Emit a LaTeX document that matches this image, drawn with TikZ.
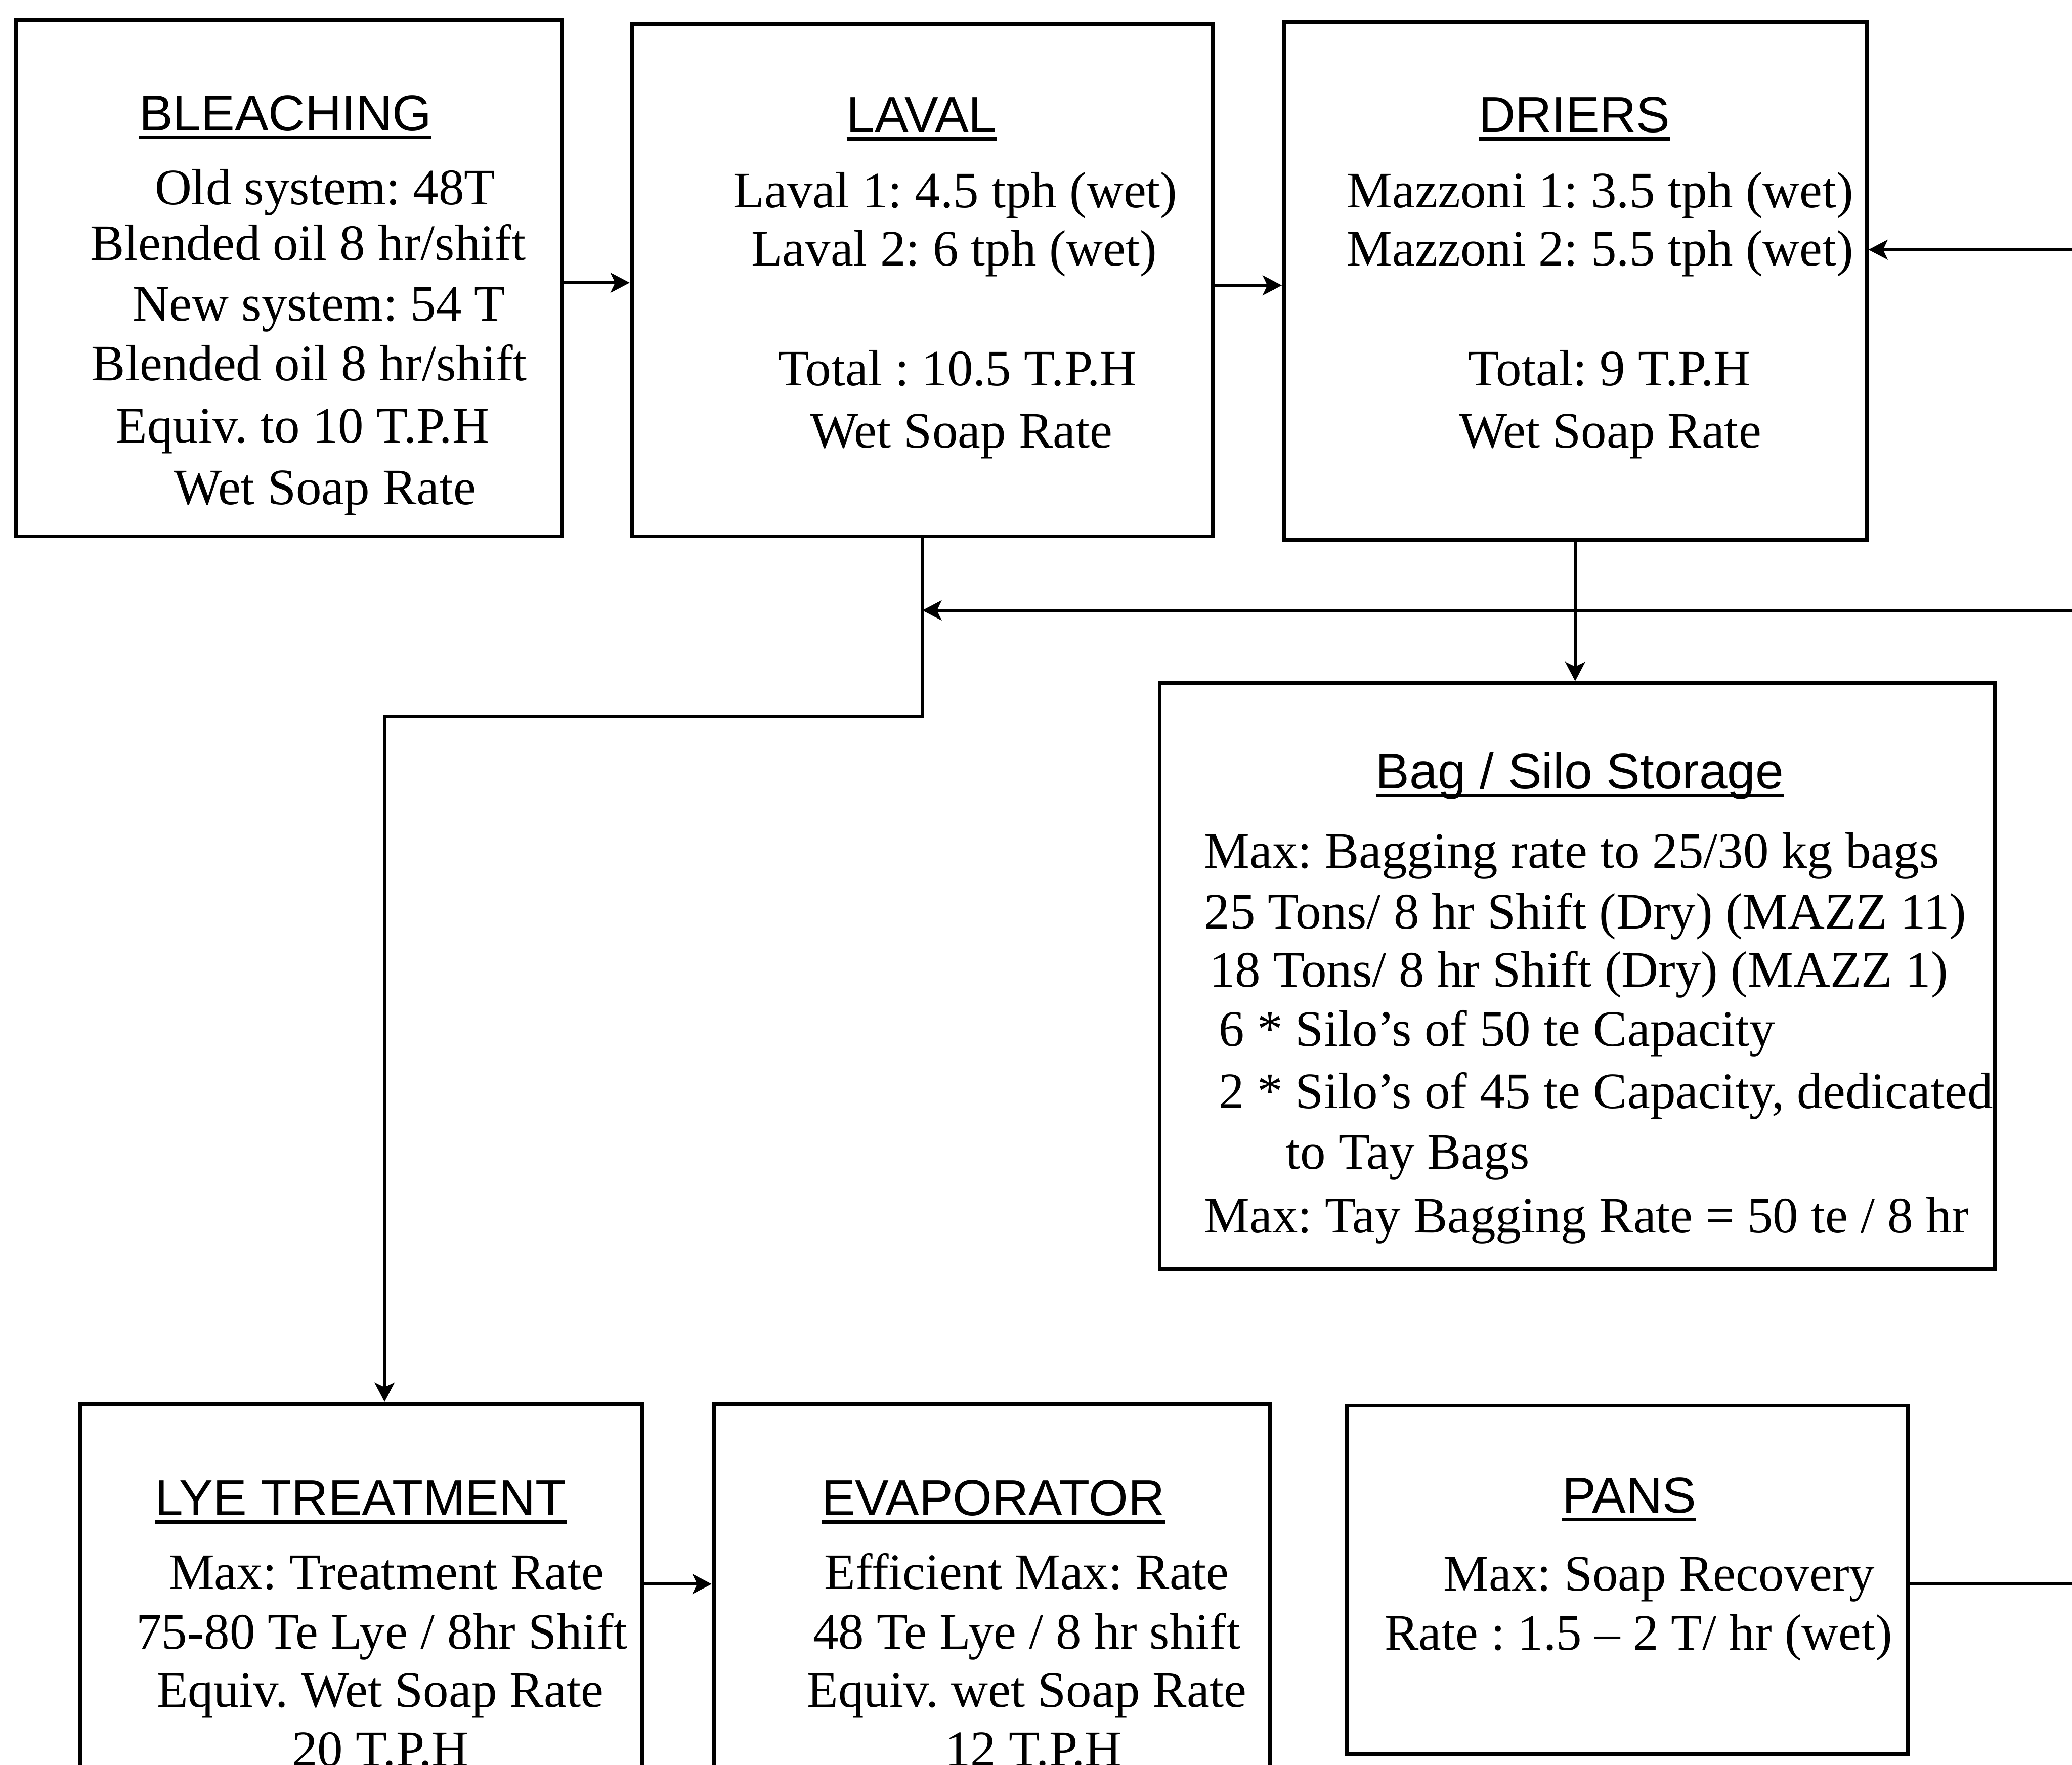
\documentclass[tikz,border=0pt]{standalone}
\usepackage{fontspec}
\setmainfont{Liberation Serif}
\setsansfont{Liberation Sans}
\usetikzlibrary{arrows.meta}

% heading text with a rule drawn just under its baseline
\newcommand\headline[1]{\setbox0\hbox{#1}\rlap{\rule[-3.6pt]{\wd0}{1.4pt}}\box0}

\begin{document}
\frenchspacing
\begin{tikzpicture}[x=0.02cm,y=-0.02cm,
  box/.style={draw, line width=1.7pt, rectangle, inner sep=0pt},
  ln/.style={anchor=base, inner sep=0pt, font=\fontsize{22}{26}\selectfont},
  lnl/.style={ln, anchor=base west},
  ttl/.style={anchor=base, inner sep=0pt, font=\sffamily\fontsize{21.8}{26}\selectfont},
  conn/.style={line width=1.4pt},
  arr/.style={conn, -{Stealth[length=0.29cm,width=0.3cm,inset=0.07cm]}}]

\useasboundingbox (0,0) rectangle (1568,1336);
\fill[white] (0,0) rectangle (1568,1336);
\clip (0,0) rectangle (1568,1336);

% ---------- process boxes ----------
\node[box, minimum width=8.27cm, minimum height=7.82cm] (bleach) at (218.5,210.5) {};
\node[box, minimum width=8.80cm, minimum height=7.76cm] (laval)  at (698,212) {};
\node[box, minimum width=8.82cm, minimum height=7.84cm] (driers) at (1192,212.5) {};
\node[box, minimum width=12.64cm, minimum height=8.88cm] (bag)   at (1193.5,739) {};
\node[box, minimum width=8.51cm, minimum height=7.15cm] (lye)    at (273.2,1241.3) {};
\node[box, minimum width=8.42cm, minimum height=7.14cm] (evap)   at (750.5,1241.5) {};
\node[box, minimum width=8.50cm, minimum height=5.28cm] (pans)   at (1231.5,1196) {};

% ---------- BLEACHING ----------
\node[ttl] (bl0) at (216,99) {\headline{BLEACHING}};
\node[ln] (bl1) at (246,155) {Old system: 48T};
\node[ln] (bl2) at (233,197) {Blended oil 8 hr/shift};
\node[ln] (bl3) at (241.5,243) {New system: 54 T};
\node[ln] (bl4) at (234,288) {Blended oil 8 hr/shift};
\node[ln] (bl5) at (229,335) {Equiv. to 10 T.P.H};
\node[ln] (bl6) at (246,382) {Wet Soap Rate};

% ---------- LAVAL ----------
\node[ttl] (la0) at (697.5,100) {\headline{LAVAL}};
\node[ln] (la1) at (723,157) {Laval 1: 4.5 tph (wet)};
\node[ln] (la2) at (722,201) {Laval 2: 6 tph (wet)};
\node[ln] (la3) at (724.5,292) {Total : 10.5 T.P.H};
\node[ln] (la4) at (727.5,339) {Wet Soap Rate};

% ---------- DRIERS ----------
\node[ttl] (dr0) at (1191.5,100) {\headline{DRIERS}};
\node[ln] (dr1) at (1211,157) {Mazzoni 1: 3.5 tph (wet)};
\node[ln] (dr2) at (1211,201) {Mazzoni 2: 5.5 tph (wet)};
\node[ln] (dr3) at (1218,292) {Total: 9 T.P.H};
\node[ln] (dr4) at (1218.5,339) {Wet Soap Rate};

% ---------- Bag / Silo Storage ----------
\node[ttl] (bg0) at (1195.5,597) {\headline{Bag / Silo Storage}};
\node[lnl] (bg1) at (911,657) {Max: Bagging rate to 25/30 kg bags};
\node[lnl] (bg2) at (911,703) {25 Tons/ 8 hr Shift (Dry) (MAZZ 11)};
\node[lnl] (bg3) at (915,747) {18 Tons/ 8 hr Shift (Dry) (MAZZ 1)};
\node[lnl] (bg4) at (922,792) {6 * Silo's of 50 te Capacity};
\node[lnl] (bg5) at (922,839) {2 * Silo's of 45 te Capacity, dedicated};
\node[lnl] (bg6) at (973,885) {to Tay Bags};
\node[lnl] (bg7) at (911,933) {Max: Tay Bagging Rate = 50 te / 8 hr};

% ---------- LYE TREATMENT ----------
\node[ttl] (ly0) at (273,1147) {\headline{LYE TREATMENT}};
\node[ln] (ly1) at (292.5,1203) {Max: Treatment Rate};
\node[ln] (ly2) at (289,1248) {75-80 Te Lye / 8hr Shift};
\node[ln] (ly3) at (287.7,1292) {Equiv. Wet Soap Rate};
\node[ln] (ly4) at (287.8,1337) {20 T.P.H};

% ---------- EVAPORATOR ----------
\node[ttl] (ev0) at (751.6,1147) {\headline{EVAPORATOR}};
\node[ln] (ev1) at (777,1203) {Efficient Max: Rate};
\node[ln] (ev2) at (777,1248) {48 Te Lye / 8 hr shift};
\node[ln] (ev3) at (777,1292) {Equiv. wet Soap Rate};
\node[ln] (ev4) at (782,1337) {12 T.P.H};

% ---------- PANS ----------
\node[ttl] (pa0) at (1233,1145) {\headline{PANS}};
\node[ln] (pa1) at (1255.6,1204) {Max: Soap Recovery};
\node[ln] (pa2) at (1240,1249) {Rate : 1.5 -- 2 T/ hr (wet)};

% ---------- flow lines ----------
\coordinate (r1) at (0,214);
\coordinate (r2) at (0,216);
\coordinate (r3) at (0,1199);
\coordinate (inD) at (1568,189);
\coordinate (ret) at (1568,462);
\coordinate (j) at (291,542);
\coordinate (outP) at (1568,1199);

\draw[arr] (r1 -| bleach.east) -- (r1 -| laval.west);
\draw[arr] (r2 -| laval.east) -- (r2 -| driers.west);
\draw[arr] (inD) -- (inD -| driers.east);
\draw[arr] (ret) -- (ret -| laval.south);
\draw[arr] (laval.south) |- (j) -- (j |- lye.north);
\draw[arr] (driers.south) -- (driers.south |- bag.north);
\draw[arr] (r3 -| lye.east) -- (r3 -| evap.west);
\draw[conn] (outP -| pans.east) -- (outP);

\end{tikzpicture}
\end{document}
